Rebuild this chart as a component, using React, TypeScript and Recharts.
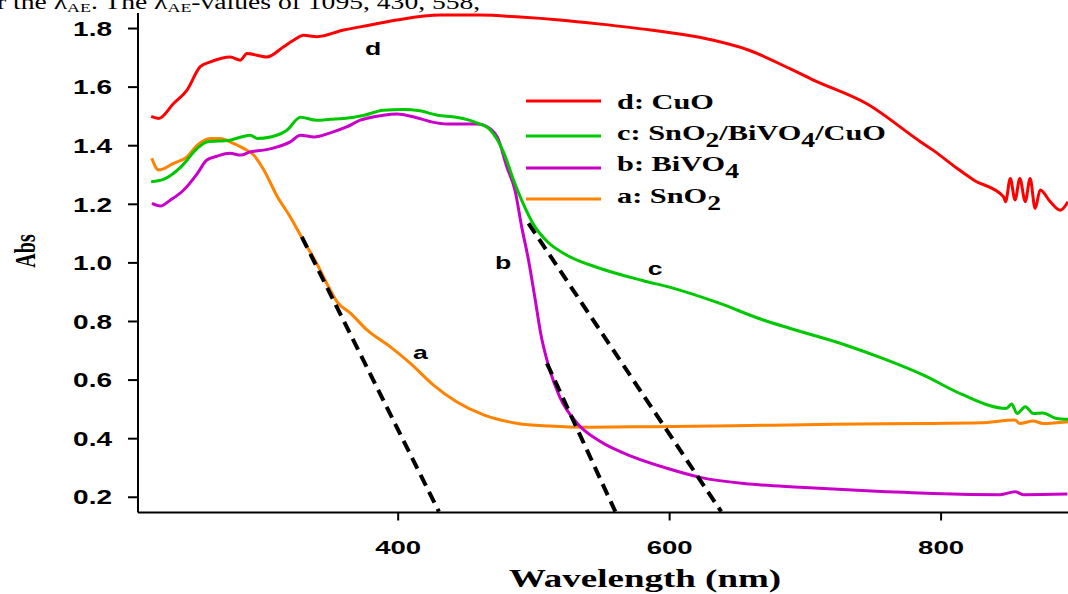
import React from "react";
import {
  LineChart,
  Line,
  XAxis,
  YAxis,
  ReferenceLine,
  ReferenceDot,
} from "recharts";

// d: CuO
const cuoWl = [
  218, 223.5, 234.5, 244.4, 254.2, 261.6, 276.3, 283.7, 288.6, 303.3, 315.6,
  322.9, 330.3, 340.1, 359.8, 379.4, 399, 431, 460, 490, 519, 549, 586, 622,
  659, 689, 706, 745, 785, 794, 812, 824, 846, 847.5, 851, 854.5, 858, 862,
  865.6, 869.3, 873, 880.4, 887.8, 893.5,
];
const cuoAbs = [
  1.5, 1.493, 1.544, 1.59, 1.67, 1.686, 1.703, 1.692, 1.715, 1.703, 1.738,
  1.76, 1.777, 1.772, 1.795, 1.812, 1.829, 1.846, 1.846, 1.839, 1.829, 1.815,
  1.795, 1.77, 1.725, 1.662, 1.624, 1.544, 1.413, 1.385, 1.322, 1.283, 1.226,
  1.209, 1.288, 1.215, 1.288, 1.209, 1.288, 1.186, 1.249, 1.209, 1.18, 1.209,
];

// c: SnO2/BiVO4/CuO
const compWl = [
  218, 227, 240, 252, 259, 276, 291, 296, 306, 318, 328, 340, 350, 360, 375,
  389, 404, 416, 429, 443, 458, 468, 478, 485, 492, 500, 510, 524, 549, 580,
  603, 635, 669, 689, 730, 757, 787, 816, 848, 852, 856, 862, 868, 875, 885,
  893.5,
];
const compAbs = [
  1.277, 1.285, 1.328, 1.391, 1.413, 1.419, 1.436, 1.425, 1.43, 1.453, 1.497,
  1.487, 1.49, 1.493, 1.504, 1.521, 1.524, 1.519, 1.504, 1.497, 1.478, 1.453,
  1.374, 1.283, 1.203, 1.129, 1.072, 1.027, 0.981, 0.94, 0.913, 0.865, 0.805,
  0.776, 0.719, 0.674, 0.617, 0.55, 0.503, 0.518, 0.486, 0.509, 0.486, 0.488,
  0.469, 0.466,
];

// b: BiVO4
const bivWl = [
  218.6, 224.7, 232, 242, 252, 259, 266.5, 276, 284, 291, 301, 311, 320.5, 328,
  338, 350, 362, 372, 389, 399, 411, 424, 436, 448, 458, 463, 473, 480, 486,
  491, 496, 501, 505, 511, 519, 532, 549, 573, 598, 622.5, 659, 696, 745, 794,
  843.5, 854.5, 860.6, 893,
];
const bivAbs = [
  1.203, 1.194, 1.214, 1.249, 1.305, 1.351, 1.364, 1.374, 1.368, 1.379, 1.385,
  1.396, 1.413, 1.436, 1.43, 1.444, 1.464, 1.487, 1.504, 1.508, 1.499, 1.482,
  1.474, 1.474, 1.474, 1.47, 1.43, 1.328, 1.249, 1.123, 1.01, 0.873, 0.759,
  0.645, 0.543, 0.452, 0.39, 0.338, 0.299, 0.268, 0.245, 0.234, 0.222, 0.213,
  0.209, 0.219, 0.209, 0.211,
];

// a: SnO2
const snoWl = [
  218.5, 223.4, 234.5, 244.4, 252, 261.6, 269, 276, 286, 293.5, 301, 311,
  320.5, 330, 340, 350, 355, 365, 377, 394, 409, 426, 443, 463, 488, 512, 537,
  586, 647, 721, 794, 829, 854.5, 858, 868, 875, 893.5,
];
const snoAbs = [
  1.357, 1.317, 1.34, 1.362, 1.402, 1.425, 1.425, 1.413, 1.391, 1.368, 1.317,
  1.226, 1.157, 1.078, 0.998, 0.907, 0.867, 0.828, 0.771, 0.714, 0.657, 0.583,
  0.526, 0.481, 0.452, 0.443, 0.439, 0.441, 0.444, 0.449, 0.452, 0.454, 0.464,
  0.452, 0.46, 0.452, 0.458,
];

// dashed tangents: [wl, abs] start and end
const tangentA = [[329, 1.089], [430, 0.151]];
const tangentB = [[509.6, 0.657], [560, 0.151]];
const tangentC = [[496, 1.135], [638, 0.151]];

const curveLetters = ["d", "b", "c", "a"];
const letterWl = [381.6, 477.4, 589.4, 416.3];
const letterAbs = [1.733, 1.003, 0.982, 0.696];

const xTicks = [400, 600, 800];
const yTicks = [0.2, 0.4, 0.6, 0.8, 1.0, 1.2, 1.4, 1.6, 1.8];

// legend text pieces, [text, subscript?]
const legendNames: [string, boolean][][] = [
  [["d: CuO", false]],
  [
    ["c: SnO", false],
    ["2", true],
    ["/BiVO", false],
    ["4", true],
    ["/CuO", false],
  ],
  [
    ["b: BiVO", false],
    ["4", true],
  ],
  [
    ["a: SnO", false],
    ["2", true],
  ],
];

const RED = "#ff0000";
const GREEN = "#00c800";
const MAGENTA = "#c800c8";
const ORANGE = "#ff8200";
const legendColors = [RED, GREEN, MAGENTA, ORANGE];

const sans = '"Liberation Sans", Arial, sans-serif';
const serif = '"Liberation Serif", "Times New Roman", serif';

const toPoints = (wl: number[], ab: number[]) =>
  wl.map((w, i) => ({ wl: w, abs: ab[i] }));

const series = [
  { name: "cuo", color: RED, data: toPoints(cuoWl, cuoAbs) },
  { name: "sno", color: ORANGE, data: toPoints(snoWl, snoAbs) },
  { name: "biv", color: MAGENTA, data: toPoints(bivWl, bivAbs) },
  { name: "comp", color: GREEN, data: toPoints(compWl, compAbs) },
];

function YTick({ x, y, payload }: any) {
  return (
    <g transform={`translate(${x},${y}) scale(1.4,1)`}>
      <text
        textAnchor="end"
        dy="0.36em"
        fontFamily={sans}
        fontWeight="bold"
        fontSize={20}
        fill="#000"
      >
        {Number(payload.value).toFixed(1)}
      </text>
    </g>
  );
}

function XTick({ x, y, payload }: any) {
  return (
    <g transform={`translate(${x},${y}) scale(1.45,1)`}>
      <text
        textAnchor="middle"
        dy="0.7em"
        fontFamily={sans}
        fontWeight="bold"
        fontSize={19}
        fill="#000"
      >
        {payload.value}
      </text>
    </g>
  );
}

function LegendText({ parts }: { parts: [string, boolean][] }) {
  let shift = 0;
  return (
    <text fontFamily={serif} fontWeight="bold" fontSize={22} fill="#000">
      {parts.map(([t, sub], i) => {
        const target = sub ? 7 : 0;
        const dy = target - shift;
        shift = target;
        return (
          <tspan key={i} dy={dy} fontSize={sub ? 20 : 22}>
            {t}
          </tspan>
        );
      })}
    </text>
  );
}

function Overlay() {
  const lineY = [101, 136, 168, 199];
  const baseY = [109, 140, 171, 203];
  return (
    <svg
      width={1068}
      height={594}
      style={{ position: "absolute", left: 0, top: 0, pointerEvents: "none" }}
    >
      <g transform="translate(-3,9) scale(1.38,1)">
        <text fontFamily={serif} fontSize={20} fill="#000">
          r the λ
          <tspan dy={3} fontSize={13}>
            AE
          </tspan>
          <tspan dy={-3}>. The λ</tspan>
          <tspan dy={3} fontSize={13}>
            AE
          </tspan>
          <tspan dy={-3}>-values of 1095, 430, 558,</tspan>
        </text>
      </g>
      {legendNames.map((parts, i) => (
        <g key={i}>
          <line
            x1={526}
            x2={601}
            y1={lineY[i]}
            y2={lineY[i]}
            stroke={legendColors[i]}
            strokeWidth={3}
          />
          <g transform={`translate(617,${baseY[i]}) scale(1.38,1)`}>
            <LegendText parts={parts} />
          </g>
        </g>
      ))}
    </svg>
  );
}

const letterShape = (txt: string) => (p: any) =>
  (
    <g transform={`translate(${p.cx},${p.cy}) scale(1.4,1)`}>
      <text
        textAnchor="middle"
        dy="0.36em"
        fontFamily={sans}
        fontWeight="bold"
        fontSize={19}
        fill="#000"
      >
        {txt}
      </text>
    </g>
  );

export default function App() {
  const tangents = [tangentA, tangentB, tangentC];
  return (
    <div
      style={{
        position: "absolute",
        left: 0,
        top: 0,
        width: 1068,
        height: 594,
        background: "#fff",
        overflow: "hidden",
      }}
    >
      <LineChart
        width={1068}
        height={594}
        margin={{ top: 13, right: 0, bottom: 0, left: 0 }}
      >
        <XAxis
          dataKey="wl"
          type="number"
          domain={[208.3, 893.5]}
          allowDataOverflow
          ticks={xTicks}
          height={81.5}
          tickSize={8}
          tickMargin={20}
          axisLine={{ stroke: "#000", strokeWidth: 2 }}
          tickLine={{ stroke: "#000", strokeWidth: 2 }}
          tick={<XTick />}
          label={{
            content: () => (
              <g transform="translate(645,587) scale(1.48,1)">
                <text
                  textAnchor="middle"
                  fontFamily={serif}
                  fontWeight="bold"
                  fontSize={25}
                  fill="#000"
                >
                  Wavelength (nm)
                </text>
              </g>
            ),
          }}
        />
        <YAxis
          type="number"
          domain={[0.148, 1.853]}
          allowDataOverflow
          ticks={yTicks}
          width={138}
          tickSize={10}
          tickMargin={16}
          axisLine={{ stroke: "#000", strokeWidth: 2 }}
          tickLine={{ stroke: "#000", strokeWidth: 2 }}
          tick={<YTick />}
          label={{
            content: () => (
              <g transform="translate(35,251) scale(1.45,1) rotate(-90)">
                <text
                  textAnchor="middle"
                  fontFamily={serif}
                  fontWeight="bold"
                  fontSize={20}
                  fill="#000"
                >
                  Abs
                </text>
              </g>
            ),
          }}
        />
        {series.map((s) => (
          <Line
            key={s.name}
            data={s.data}
            dataKey="abs"
            type="monotone"
            stroke={s.color}
            strokeWidth={3}
            dot={false}
            activeDot={false}
            isAnimationActive={false}
          />
        ))}
        {tangents.map((t, i) => (
          <ReferenceLine
            key={i}
            segment={[
              { x: t[0][0], y: t[0][1] },
              { x: t[1][0], y: t[1][1] },
            ]}
            stroke="#000"
            strokeWidth={4}
            strokeDasharray="12 7"
            ifOverflow="visible"
          />
        ))}
        {curveLetters.map((c, i) => (
          <ReferenceDot
            key={c}
            x={letterWl[i]}
            y={letterAbs[i]}
            r={0}
            ifOverflow="visible"
            shape={letterShape(c)}
          />
        ))}
      </LineChart>
      <Overlay />
    </div>
  );
}
